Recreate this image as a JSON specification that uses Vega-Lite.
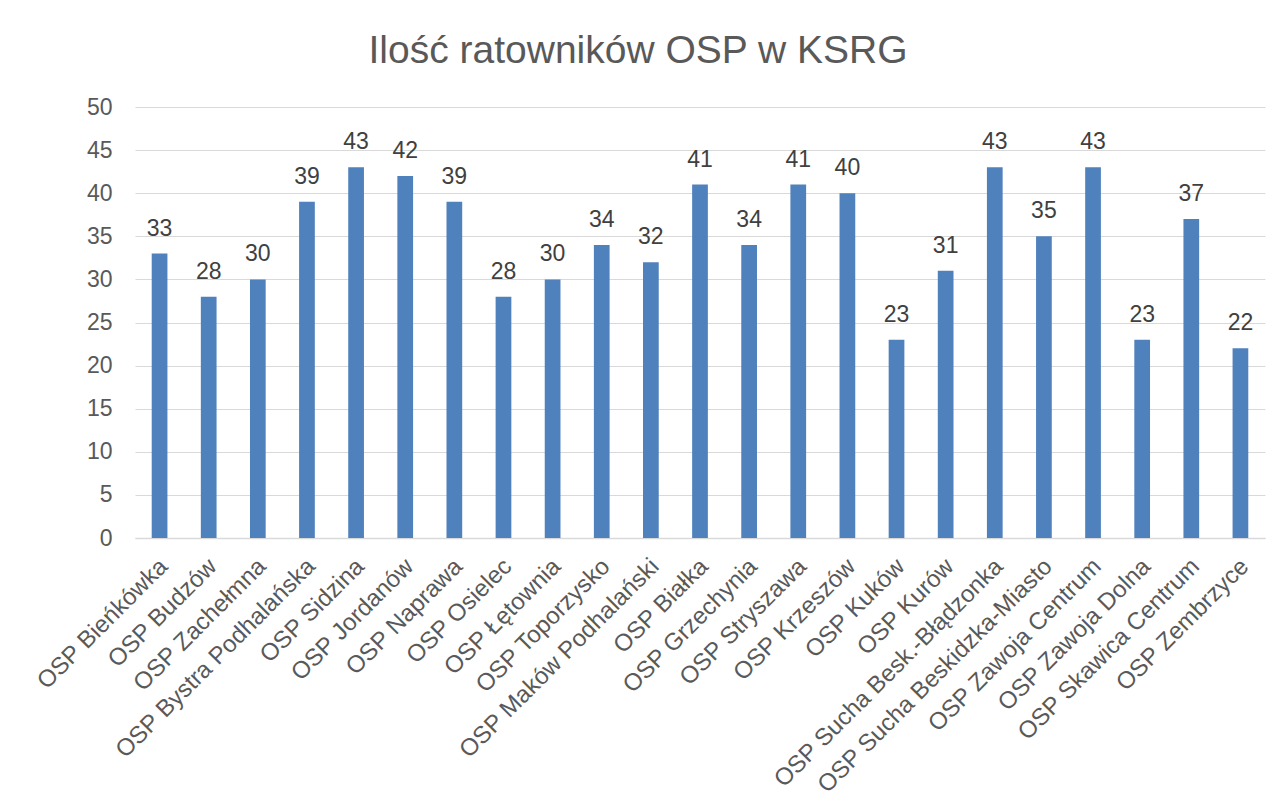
{
  "$schema": "https://vega.github.io/schema/vega-lite/v6.json",
  "autosize": "none",
  "width": 1130,
  "height": 431,
  "padding": {"left": 135, "top": 107, "right": 16, "bottom": 267},
  "background": "white",
  "title": {
    "text": "Ilość ratowników OSP w KSRG",
    "anchor": "middle",
    "fontSize": 39,
    "font": "Liberation Sans",
    "fontWeight": "normal",
    "color": "#595959",
    "offset": 25,
    "dx": -62
  },
  "data": {
    "values": [
      {"jednostka": "OSP Bieńkówka", "ratownicy": 33},
      {"jednostka": "OSP Budzów", "ratownicy": 28},
      {"jednostka": "OSP Zachełmna", "ratownicy": 30},
      {"jednostka": "OSP Bystra Podhalańska", "ratownicy": 39},
      {"jednostka": "OSP Sidzina", "ratownicy": 43},
      {"jednostka": "OSP Jordanów", "ratownicy": 42},
      {"jednostka": "OSP Naprawa", "ratownicy": 39},
      {"jednostka": "OSP Osielec", "ratownicy": 28},
      {"jednostka": "OSP Łętownia", "ratownicy": 30},
      {"jednostka": "OSP Toporzysko", "ratownicy": 34},
      {"jednostka": "OSP Maków Podhalański", "ratownicy": 32},
      {"jednostka": "OSP Białka", "ratownicy": 41},
      {"jednostka": "OSP Grzechynia", "ratownicy": 34},
      {"jednostka": "OSP Stryszawa", "ratownicy": 41},
      {"jednostka": "OSP Krzeszów", "ratownicy": 40},
      {"jednostka": "OSP Kuków", "ratownicy": 23},
      {"jednostka": "OSP Kurów", "ratownicy": 31},
      {"jednostka": "OSP Sucha Besk.-Błądzonka", "ratownicy": 43},
      {"jednostka": "OSP Sucha Beskidzka-Miasto", "ratownicy": 35},
      {"jednostka": "OSP Zawoja Centrum", "ratownicy": 43},
      {"jednostka": "OSP Zawoja Dolna", "ratownicy": 23},
      {"jednostka": "OSP Skawica Centrum", "ratownicy": 37},
      {"jednostka": "OSP Zembrzyce", "ratownicy": 22}
    ]
  },
  "encoding": {
    "x": {
      "field": "jednostka",
      "type": "nominal",
      "sort": null,
      "scale": {"paddingInner": 0.68, "paddingOuter": 0.34},
      "axis": {
        "title": null,
        "labelAngle": -45,
        "labelAlign": "right",
        "labelBaseline": "top",
        "labelFont": "Liberation Sans",
        "labelFontSize": 24,
        "labelColor": "#595959",
        "labelPadding": 16,
        "labelOffset": -4,
        "labelLimit": 0,
        "ticks": false,
        "domain": true,
        "domainColor": "#d9d9d9",
        "domainWidth": 1.5,
        "grid": false
      }
    },
    "y": {
      "field": "ratownicy",
      "type": "quantitative",
      "scale": {"domain": [0, 50], "nice": false},
      "axis": {
        "title": null,
        "values": [0, 5, 10, 15, 20, 25, 30, 35, 40, 45, 50],
        "labelFont": "Liberation Sans",
        "labelFontSize": 23,
        "labelColor": "#595959",
        "labelPadding": 23,
        "ticks": false,
        "domain": false,
        "grid": true,
        "gridColor": "#d9d9d9",
        "gridWidth": 1.2
      }
    }
  },
  "layer": [
    {"mark": {"type": "bar", "color": "#4f81bd"}},
    {
      "mark": {
        "type": "text",
        "baseline": "alphabetic",
        "dy": -18,
        "font": "Liberation Sans",
        "fontSize": 23,
        "color": "#404040"
      },
      "encoding": {"text": {"field": "ratownicy", "type": "quantitative"}}
    }
  ],
  "config": {"view": {"stroke": null}}
}
